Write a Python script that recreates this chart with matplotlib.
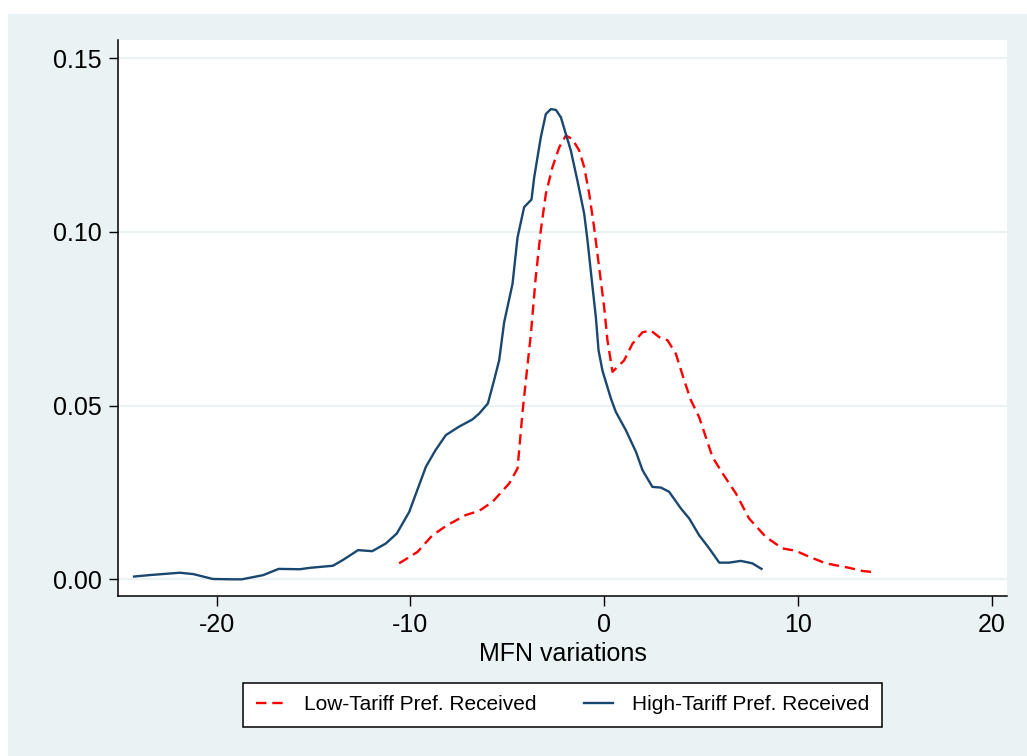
import numpy as np
import matplotlib
matplotlib.use("Agg")
import matplotlib.pyplot as plt
from matplotlib.patches import Rectangle

# kernel density curves (x = MFN variation, y = density)
high_x = [-24.26, -23.5, -21.9, -21.2, -20.2, -19.2, -18.7, -17.6, -16.8, -15.7,
          -15.2, -14.0, -13.5, -12.7, -11.97, -11.27, -10.7, -10.06, -9.2, -8.7,
          -8.17, -7.5, -6.8, -6.45, -6.0, -5.68, -5.42, -5.16, -4.73, -4.47,
          -4.13, -3.75, -3.61, -3.27, -3.01, -2.75, -2.49, -2.23, -1.98, -1.72,
          -1.38, -1.03, -0.86, -0.60, -0.43, -0.29, -0.09, 0.17, 0.35, 0.60,
          1.12, 1.64, 1.98, 2.49, 2.93, 3.35, 3.96, 4.39, 4.90, 5.42,
          5.94, 6.45, 7.05, 7.65, 8.12]
high_y = [0.0008, 0.0012, 0.0019, 0.0015, 0.0001, 0.0, 0.0, 0.0012, 0.0030, 0.0029,
          0.0033, 0.0039, 0.0055, 0.0084, 0.0081, 0.0103, 0.0132, 0.0194, 0.0324, 0.0372,
          0.0415, 0.0439, 0.0460, 0.0477, 0.0506, 0.0573, 0.0630, 0.0740, 0.0850, 0.0984,
          0.1071, 0.1093, 0.1157, 0.1272, 0.1339, 0.1353, 0.1351, 0.1329, 0.1282, 0.1234,
          0.1147, 0.1052, 0.0975, 0.0841, 0.0755, 0.0659, 0.0601, 0.0553, 0.0520, 0.0482,
          0.0429, 0.0367, 0.0314, 0.0266, 0.0264, 0.0252, 0.0204, 0.0175, 0.0127, 0.0089,
          0.0048, 0.0048, 0.0053, 0.0046, 0.0030]

low_x = [-10.58, -9.63, -8.86, -8.09, -7.14, -6.45, -5.76, -4.90, -4.47, -4.22,
         -4.04, -3.78, -3.53, -3.27, -3.01, -2.67, -2.32, -1.98, -1.64, -1.29,
         -1.03, -0.77, -0.52, -0.26, 0.0, 0.17, 0.43, 1.03, 1.46, 1.98,
         2.41, 2.84, 3.27, 3.70, 4.13, 4.47, 4.90, 5.59, 6.11, 6.80,
         7.48, 8.34, 9.20, 9.89, 10.58, 11.44, 12.65, 13.33, 14.02]
low_y = [0.0046, 0.0079, 0.0127, 0.0156, 0.0185, 0.0197, 0.0223, 0.0276, 0.0319, 0.0477,
         0.0573, 0.0707, 0.0870, 0.1004, 0.1109, 0.1186, 0.1243, 0.1277, 0.1267, 0.1234,
         0.1186, 0.1109, 0.1013, 0.0898, 0.0783, 0.0688, 0.0597, 0.0630, 0.0678, 0.0711,
         0.0716, 0.0697, 0.0688, 0.0649, 0.0573, 0.0516, 0.0467, 0.0352, 0.0305, 0.0247,
         0.0175, 0.0122, 0.0089, 0.0082, 0.0065, 0.0046, 0.0033, 0.0024, 0.0020]

xticks = [-20, -10, 0, 10, 20]
yticks = [0.00, 0.05, 0.10, 0.15]
ytick_labels = ["0.00", "0.05", "0.10", "0.15"]

bg = "#EAF2F3"
navy = "#1A476F"

plt.rcParams['font.family'] = ['Liberation Sans', 'DejaVu Sans']
plt.rcParams['axes.unicode_minus'] = False

fig = plt.figure(figsize=(10.27, 7.56), dpi=100)
fig.patch.set_facecolor("white")
# stata style graph region
fig.patches.append(Rectangle((8 / 1027, 0), 1, 1 - 14 / 756, transform=fig.transFigure,
                             facecolor=bg, edgecolor="none", zorder=-10))

ax = fig.add_axes([118 / 1027, 1 - 596 / 756, (1007 - 118) / 1027, (596 - 40) / 756])
ax.set_facecolor("white")

ax.plot(low_x, low_y, color="#FF0000", lw=1.7, linestyle=(0, (4.4, 2.5)),
        label="Low-Tariff Pref. Received")
ax.plot(high_x, high_y, color=navy, lw=1.7, label="High-Tariff Pref. Received")

ax.set_xlim(-25.09, 20.79)
ax.set_ylim(-0.0048, 0.1552)
ax.set_xticks(xticks)
ax.set_yticks(yticks)
ax.set_yticklabels(ytick_labels)
ax.grid(axis="y", color=bg, lw=1.6)
ax.set_axisbelow(True)

for s in ["top", "right"]:
    ax.spines[s].set_visible(False)
for s in ["left", "bottom"]:
    ax.spines[s].set_linewidth(1.1)
ax.tick_params(axis="both", labelsize=18, width=1.0, colors="black")
ax.tick_params(axis="y", length=6.5, pad=5)
ax.tick_params(axis="x", length=7.5, pad=5)

ax.set_xlabel("MFN variations", fontsize=18, labelpad=3)

leg = ax.legend(loc="center", bbox_to_anchor=(0.5, -0.196), ncol=2, fontsize=15,
                frameon=True, fancybox=False, edgecolor="black", framealpha=1,
                handlelength=1.4, handletextpad=0.9, columnspacing=2.3,
                borderpad=0.62)
leg.get_frame().set_linewidth(1.1)

fig.savefig("out.png", dpi=100, facecolor=fig.get_facecolor())
